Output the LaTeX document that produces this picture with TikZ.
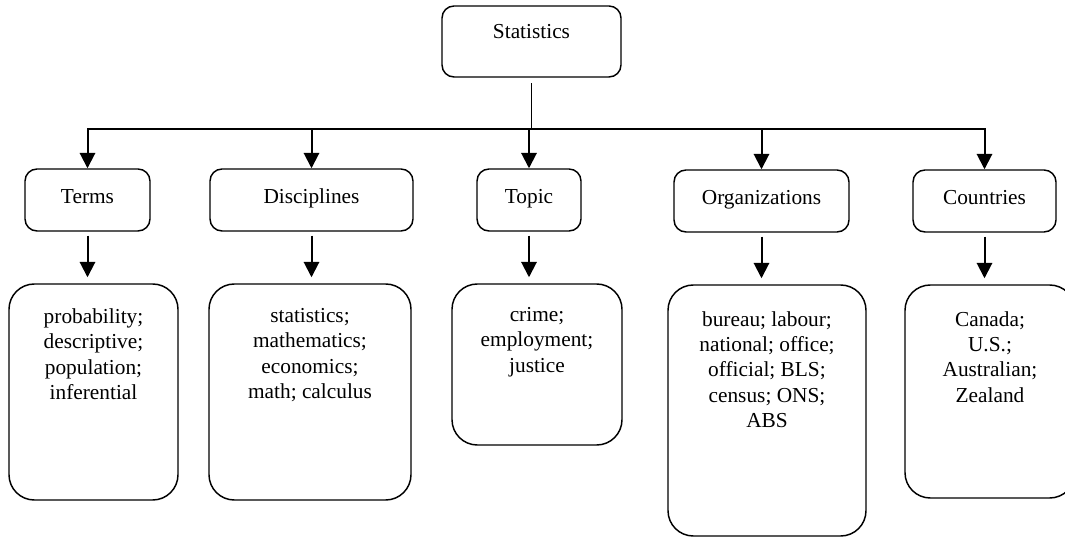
\documentclass[tikz,border=0pt]{standalone}
\usepackage{fontspec}
\setmainfont{Liberation Serif}
\usetikzlibrary{arrows.meta,positioning}

\begin{document}
\begin{tikzpicture}[
        x=0.75pt, y=-0.75pt,
        font=\fontsize{16pt}{19pt}\selectfont,
        root/.style={rectangle, draw=black, line width=1.1pt, rounded corners=9pt, minimum width=134.25pt, minimum height=53.25pt},
        cat/.style={rectangle, draw=black, line width=1.1pt, rounded corners=9pt, minimum height=46.5pt, inner sep=0pt, text height=10.5pt, text depth=5pt},
        kw/.style={rectangle, draw=black, line width=1.1pt, rounded corners=19pt},
        kwtext/.style={align=center, inner sep=0pt},
        arr/.style={-{Triangle[width=11.5pt, length=11.5pt]}, line width=1.5pt}
    ]
    \useasboundingbox (0,0) rectangle (1065,538);
    % Raiz: Statistics
    \node[root] (stats) at (531.5,41.5) {};
    \node[kwtext, below=14.5pt of stats.north] (statslbl) {Statistics};
    \coordinate (bus) at (stats.south |- 0,129);
    \draw[line width=0.8pt, shorten <=4pt] (stats.south) -- (bus);
    % Categorias
    \node[cat, minimum width=93.75pt] (terms) at (87.5,200) {Terms};
    \node[cat, minimum width=152.25pt] (disc) at (311.5,200) {Disciplines};
    \node[cat, minimum width=78pt] (topic) at (529,200) {Topic};
    \node[cat, minimum width=131.25pt] (orgs) at (761.5,201) {Organizations};
    \node[cat, minimum width=107.25pt] (ctry) at (984.5,201) {Countries};
    \foreach \c in {terms,disc,topic,orgs,ctry}
        \draw[arr] (bus) -| (\c);
    % Palabras clave
    \node[kw, minimum width=126.75pt, minimum height=162pt] (termsL) at (93.5,392) {};
    \node[kwtext, below=18.75pt of termsL.north] (termstxt) {probability;\\descriptive;\\population;\\inferential};
    \node[kw, minimum width=151.5pt, minimum height=162pt] (discL) at (310,392) {};
    \node[kwtext, below=18.75pt of discL.north] (disctxt) {statistics;\\mathematics;\\economics;\\math; calculus};
    \node[kw, minimum width=127.5pt, minimum height=120.75pt] (topicL) at (537,364.5) {};
    \node[kwtext, below=18pt of topicL.north] (topictxt) {crime;\\employment;\\justice};
    \node[kw, minimum width=148.5pt, minimum height=188.25pt] (orgsL) at (767,410.5) {};
    \node[kwtext, below=20pt of orgsL.north] (orgstxt) {bureau; labour;\\national; office;\\official; BLS;\\census; ONS;\\ABS};
    \node[kw, minimum width=127.5pt, minimum height=159.75pt] (ctryL) at (990,391.5) {};
    \node[kwtext, below=20pt of ctryL.north] (ctrytxt) {Canada;\\U.S.;\\Australian;\\Zealand};
    \foreach \c in {terms,disc,topic,orgs,ctry}
        \draw[arr, shorten <=3pt, shorten >=4.5pt] (\c.south) -- (\c.south |- \c L.north);
    \end{tikzpicture}
\end{document}
